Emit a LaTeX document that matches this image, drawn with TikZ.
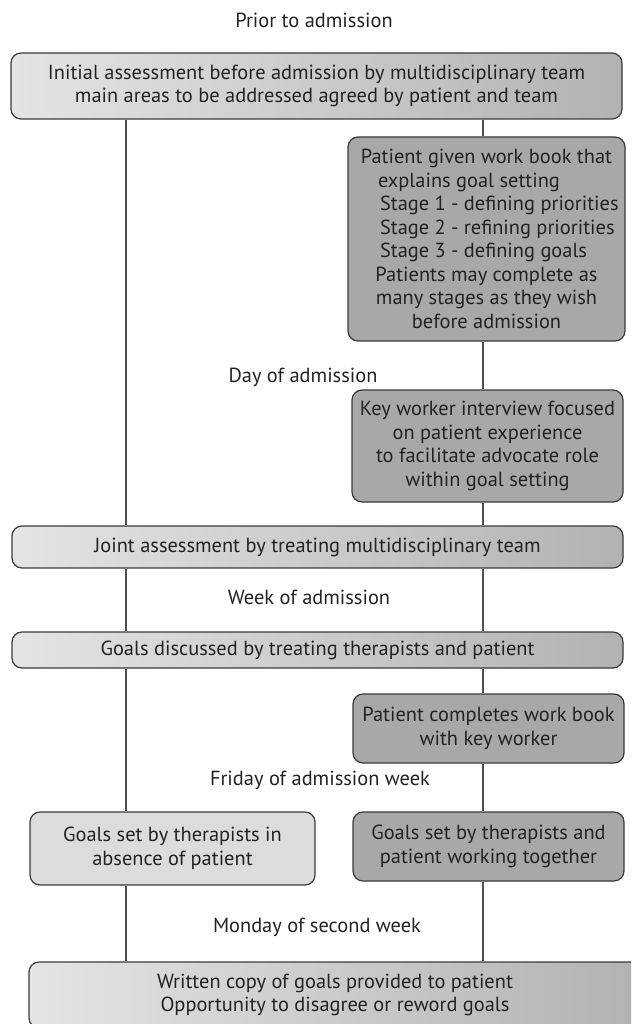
\documentclass[tikz,border=0pt]{standalone}
\usepackage{fontspec}
\setmainfont{PT Sans}
\definecolor{gl}{HTML}{E4E4E4}
\definecolor{gr}{HTML}{B2B2B4}
\definecolor{darkfill}{HTML}{A8A8A8}
\definecolor{lightfill}{HTML}{DCDCDC}
\definecolor{boxline}{HTML}{3A3A3A}
\definecolor{connline}{HTML}{4E4E4E}
\definecolor{txt}{HTML}{222222}
\newcommand\boxfont{\fontsize{20.4}{23.5}\selectfont}
\begin{document}
\begin{tikzpicture}[x=1pt,y=-1pt,
  box/.style={draw=boxline, line width=1.2pt, rounded corners=10pt, inner sep=0pt,
    align=center, font=\boxfont, text=txt},
  gradbox/.style={box, left color=gl, right color=gr},
  darkbox/.style={box, fill=darkfill},
  lightbox/.style={box, fill=lightfill},
  lbl/.style={font=\boxfont, text=txt, inner sep=0pt},
  conn/.style={draw=connline, line width=1.1pt}]
\useasboundingbox (0,0) rectangle (631,1024);
\clip (0,0) rectangle (631,1024);
\coordinate (L) at (126,0);
\coordinate (R) at (483,0);

\node[lbl] (t1) at (314,20) {Prior to admission};
\node[gradbox, minimum width=611pt, minimum height=66pt] (top) at (316.5,86)
  {Initial assessment before admission by multidisciplinary team\\main areas to be addressed agreed by patient and team};
\node[darkbox, minimum width=277pt, minimum height=204pt] (wb) at (486.5,239)
  {Patient given work book that\\
   \makebox[217pt][l]{explains goal setting}\\
   \makebox[217pt][l]{\hspace{2pt}Stage 1 - defining priorities}\\
   \makebox[217pt][l]{\hspace{2pt}Stage 2 - refining priorities}\\
   \makebox[217pt][l]{\hspace{2pt}Stage 3 - defining goals}\\
   Patients may complete as\\many stages as they wish\\before admission};
\node[lbl] (t2) at (303,377) {Day of admission};
\node[darkbox, minimum width=271pt, minimum height=112pt] (kw) at (487.5,446)
  {Key worker interview focused\\on patient experience\\to facilitate advocate role\\within goal setting};
\node[gradbox, minimum width=611pt, minimum height=42pt] (joint) at (317.5,547)
  {Joint assessment by treating multidisciplinary team};
\node[lbl] (t3) at (309,597) {Week of admission};
\node[gradbox, minimum width=611pt, minimum height=36pt] (gd) at (317.5,650)
  {Goals discussed by treating therapists and patient};
\node[darkbox, minimum width=271pt, minimum height=69pt] (pc) at (488.5,728.5)
  {Patient completes work book\\with key worker};
\node[lbl] (t4) at (320,780) {Friday of admission week};
\node[lightbox, minimum width=285pt, minimum height=73pt] (lg) at (172.5,848.5)
  {Goals set by therapists in\\absence of patient};
\node[darkbox, minimum width=271pt, minimum height=69pt] (rg) at (488.5,846.5)
  {Goals set by therapists and\\patient working together};
\node[lbl] (t5) at (317,927) {Monday of second week};
\node[gradbox, minimum width=612pt, minimum height=66pt] (bot) at (335,995)
  {Written copy of goals provided to patient\\Opportunity to disagree or reword goals};

\draw[conn] (top.south -| L) -- (joint.north -| L);
\draw[conn] (top.south -| R) -- (wb.north -| R);
\draw[conn] (wb.south -| R) -- (kw.north -| R);
\draw[conn] (kw.south -| R) -- (joint.north -| R);
\draw[conn] (joint.south -| L) -- (gd.north -| L);
\draw[conn] (joint.south -| R) -- (gd.north -| R);
\draw[conn] (gd.south -| L) -- (lg.north -| L);
\draw[conn] (gd.south -| R) -- (pc.north -| R);
\draw[conn] (pc.south -| R) -- (rg.north -| R);
\draw[conn] (lg.south -| L) -- (bot.north -| L);
\draw[conn] (rg.south -| R) -- (bot.north -| R);
\end{tikzpicture}
\end{document}
